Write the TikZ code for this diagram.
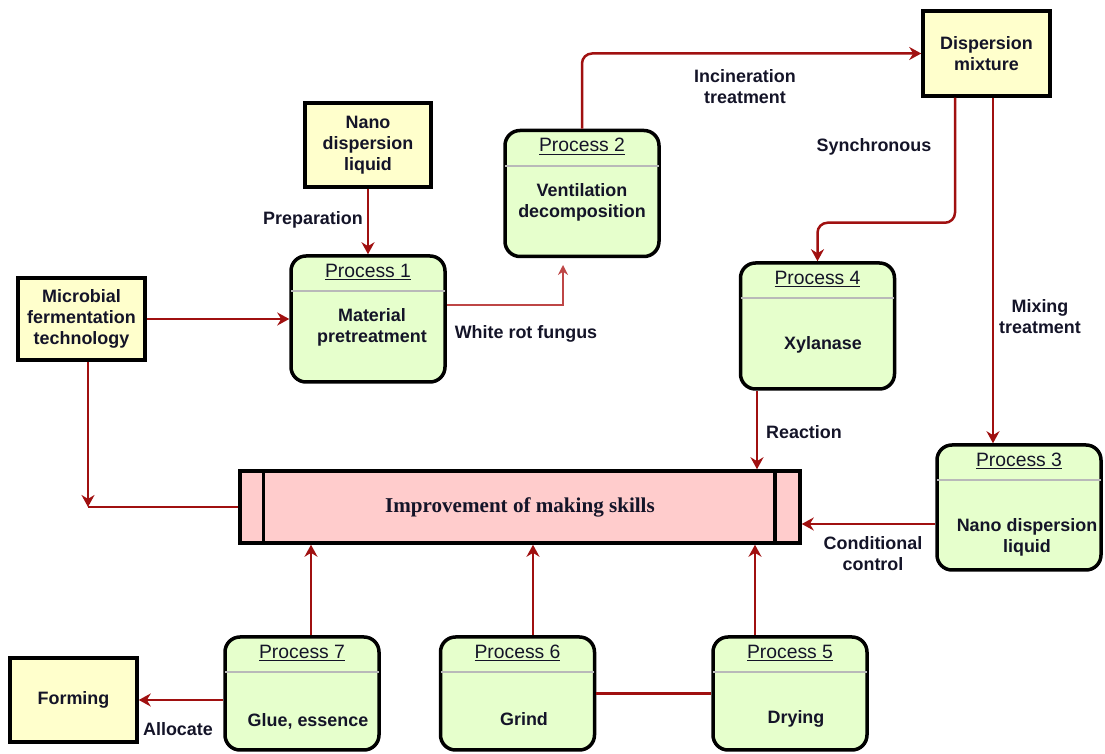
\documentclass[tikz,border=0pt]{standalone}
\usepackage{fontspec}
\setmainfont{Liberation Sans}
\newfontfamily\mainserif{Liberation Serif}
\usetikzlibrary{arrows.meta}

\definecolor{srcfill}{RGB}{255,255,204}
\definecolor{procfill}{RGB}{230,255,204}
\definecolor{mainfill}{RGB}{255,204,204}
\definecolor{arrred}{RGB}{160,16,16}
\definecolor{thinred}{RGB}{190,70,70}
\definecolor{sepgray}{RGB}{185,185,185}
\definecolor{txtcol}{RGB}{20,20,40}

\tikzset{
  srcbox/.style={draw, line width=0.07cm, fill=srcfill, minimum width=2.52cm, minimum height=1.68cm,
    align=center, text=txtcol, font=\bfseries\fontsize{10.2}{12}\selectfont},
  procbox/.style={draw, line width=0.07cm, rounded corners=0.3cm, fill=procfill,
    minimum width=3.08cm, minimum height=2.52cm},
  prochead/.style={text=txtcol, font=\fontsize{11}{12}\selectfont},
  procbody/.style={align=center, text=txtcol, font=\bfseries\fontsize{10.2}{12}\selectfont},
  sepline/.style={draw=sepgray, line width=0.04cm},
  lbl/.style={align=center, text=txtcol, font=\bfseries\fontsize{10.2}{12}\selectfont},
  arr/.style={draw=arrred, line width=0.05cm, -{Stealth[length=0.24cm, width=0.26cm]}},
  lnk/.style={draw=arrred, line width=0.05cm},
  thinarr/.style={draw=thinred, line width=0.03cm, -{Stealth[length=0.2cm, width=0.2cm]}}
}

\begin{document}
\begin{tikzpicture}
    \useasboundingbox (0,0) rectangle (22.1,-15.08);

    % sources and outputs
    \node[srcbox] (nano) at (7.36,-2.90) {Nano\\dispersion\\liquid};
    \node[srcbox, minimum width=2.54cm, minimum height=1.64cm] (micro) at (1.63,-6.38) {Microbial\\fermentation\\technology};
    \node[srcbox, minimum width=2.54cm, minimum height=1.7cm] (disp) at (19.73,-1.07) {Dispersion\\mixture};
    \node[srcbox, minimum width=2.54cm] (form) at (1.47,-14.0) {Forming};

    % main store
    \node[draw, line width=0.07cm, fill=mainfill, minimum width=11.2cm, minimum height=1.44cm,
      font=\mainserif\bfseries\fontsize{12}{13}\selectfont, text=txtcol] (main) at (10.4,-10.14) {Improvement of making skills};
    \draw[line width=0.07cm] ([xshift=0.5cm]main.north west) -- ([xshift=0.5cm]main.south west);
    \draw[line width=0.07cm] ([xshift=-0.54cm]main.north east) -- ([xshift=-0.54cm]main.south east);

    % processes
    \node[procbox] (p1) at (7.36,-6.38) {};
    \node[procbox] (p2) at (11.64,-3.87) {};
    \node[procbox] (p4) at (16.35,-6.52) {};
    \node[procbox, minimum width=3.28cm, minimum height=2.5cm] (p3) at (20.38,-10.15) {};
    \node[procbox, minimum height=2.26cm] (p7) at (6.04,-13.87) {};
    \node[procbox, minimum height=2.26cm] (p6) at (10.35,-13.87) {};
    \node[procbox, minimum height=2.26cm] (p5) at (15.8,-13.87) {};

    \foreach \p/\n in {p1/1, p2/2, p3/3, p4/4, p5/5, p6/6, p7/7} {
      \node[prochead] (\p h) at ([yshift=-0.36cm]\p.north) {\underline{Process \n}};
      \draw[sepline] ([yshift=-0.74cm, xshift=0.04cm]\p.north west) -- ([yshift=-0.74cm, xshift=-0.04cm]\p.north east);
    }

    \node[procbody] (p1b) at (7.44,-6.55) {Material\\pretreatment};
    \node[procbody] (p2b) at (11.64,-4.05) {Ventilation\\decomposition};
    \node[procbody] (p4b) at (16.46,-6.9) {Xylanase};
    \node[procbody] (p3b) at (20.54,-10.75) {Nano dispersion\\liquid};
    \node[procbody] (p7b) at (6.16,-14.43) {Glue, essence};
    \node[procbody] (p6b) at (10.48,-14.38) {Grind};
    \node[procbody] (p5b) at (15.92,-14.38) {Drying};

    % connectors
    \coordinate (cnr) at (1.76,-10.14);
    \coordinate (wrf) at (11.26,-5.3);
    \draw[arr] (nano) -- (p1);
    \draw[arr] (micro) -- (p1);
    \draw[arr] (micro.south -| cnr) -- (cnr);
    \draw[lnk] (main.west) -- (cnr);
    \draw[thinarr] ([yshift=0.28cm]p1.east) -| (wrf);
    \draw[arr, rounded corners=0.2cm] (p2.north) |- (disp.west);
    \draw[arr, rounded corners=0.2cm] ([xshift=-0.63cm]disp.south) -- ++(0,-2.5) -| (p4.north);
    \draw[arr] ([xshift=0.13cm]disp.south) -- ([xshift=0.13cm]disp.south |- p3.north);
    \draw[arr] ([xshift=-1.21cm]p4.south) -- ([xshift=-1.21cm]p4.south |- main.north);
    \draw[arr] ([yshift=-0.33cm]p3.west) -- ([yshift=-0.33cm]p3.west -| main.east);
    \draw[arr] ([xshift=0.18cm]p7.north) -- ([xshift=0.18cm]p7.north |- main.south);
    \draw[arr] ([xshift=0.31cm]p6.north) -- ([xshift=0.31cm]p6.north |- main.south);
    \draw[arr] ([xshift=-0.7cm]p5.north) -- ([xshift=-0.7cm]p5.north |- main.south);
    \draw[lnk] (p6) -- (p5);
    \draw[arr] (form.east -| p7.west) -- (form.east);

    % connector labels
    \node[lbl] (lprep) at (6.26,-4.4) {Preparation};
    \node[lbl] (lwrf) at (10.52,-6.68) {White rot fungus};
    \node[lbl] (linc) at (14.9,-1.74) {Incineration\\treatment};
    \node[lbl] (lsyn) at (17.48,-2.94) {Synchronous};
    \node[lbl] (lmix) at (20.8,-6.34) {Mixing\\treatment};
    \node[lbl] (lrea) at (16.08,-8.64) {Reaction};
    \node[lbl] (lcon) at (17.46,-11.08) {Conditional\\control};
    \node[lbl] (lall) at (3.56,-14.58) {Allocate};
\end{tikzpicture}
\end{document}
